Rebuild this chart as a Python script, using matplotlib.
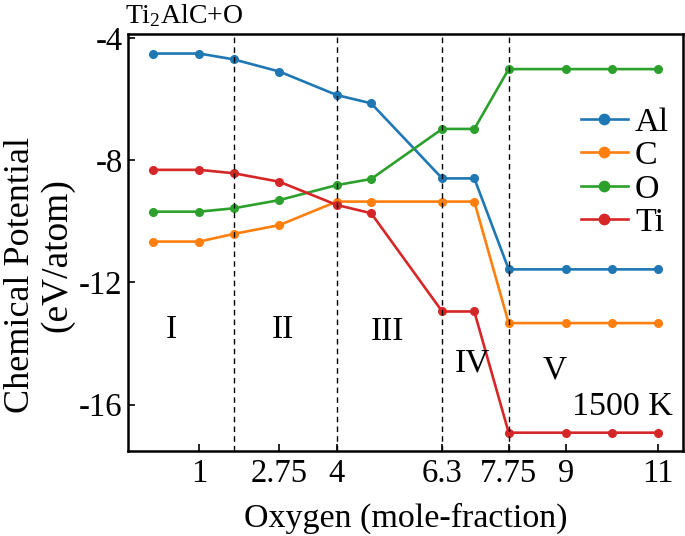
import matplotlib
matplotlib.use("Agg")
import matplotlib.pyplot as plt

plt.rcParams['font.family'] = ['Liberation Serif', 'DejaVu Serif']
plt.rcParams['mathtext.fontset'] = 'custom'
plt.rcParams['mathtext.rm'] = 'Liberation Serif'
plt.rcParams['mathtext.it'] = 'Liberation Serif:italic'

oxygen = [0, 1, 1.75, 2.75, 4, 4.75, 6.3, 7, 7.75, 9, 10, 11]
mu_Al = [-4.5, -4.5, -4.69, -5.09, -5.86, -6.13, -8.59, -8.59, -11.57, -11.57, -11.57, -11.57]
mu_C = [-10.66, -10.66, -10.41, -10.12, -9.35, -9.35, -9.35, -9.35, -13.33, -13.33, -13.33, -13.33]
mu_O = [-9.68, -9.68, -9.57, -9.30, -8.81, -8.61, -6.97, -6.97, -5.01, -5.01, -5.01, -5.01]
mu_Ti = [-8.31, -8.31, -8.42, -8.70, -9.46, -9.73, -12.95, -12.95, -16.92, -16.92, -16.92, -16.92]

boundaries = [1.75, 4, 6.3, 7.75]
xticks = [1, 2.75, 4, 6.3, 7.75, 9, 11]
xticklabels = ['1', '2.75', '4', '6.3', '7.75', '9', '11']
yticks = [-4, -8, -12, -16]
yticklabels = ['-4', '-8', '-12', '-16']

regions = ['I', 'II', 'III', 'IV', 'V']
region_x = [0.40, 2.83, 5.11, 6.96, 8.75]
region_y = [-13.55, -13.55, -13.6, -14.63, -14.86]

fig = plt.figure(figsize=(6.85, 5.36), dpi=100)
ax = fig.add_axes([0.187, 0.158, 0.810, 0.778])

for y, name, c in [(mu_Al, 'Al', 'C0'), (mu_C, 'C', 'C1'), (mu_O, 'O', 'C2'), (mu_Ti, 'Ti', 'C3')]:
    ax.plot(oxygen, y, '-o', color=c, lw=1.9, ms=5.5, label=name)

for b in boundaries:
    ax.axvline(b, color='black', ls='--', lw=1.0, dashes=(4, 3))

ax.set_xlim(-0.55, 11.55)
ax.set_ylim(-17.53, -3.87)
ax.set_xticks(xticks)
ax.set_xticklabels(xticklabels)
ax.set_yticks(yticks)
ax.set_yticklabels(yticklabels)
ax.tick_params(direction='in', labelsize=23.5, length=5, width=1.2)
ax.tick_params(axis='x', pad=5)
ax.tick_params(axis='y', pad=4)
for s in ax.spines.values():
    s.set_linewidth(1.8)

ax.set_xlabel('Oxygen (mole-fraction)', fontsize=24.5, labelpad=10)
fig.text(21 / 685, 1 - 275 / 536, 'Chemical Potential', fontsize=26, rotation=90,
         ha='center', va='center')
fig.text(57 / 685, 1 - 255 / 536, '(eV/atom)', fontsize=27, rotation=90,
         ha='center', va='center')

for r, xx, yy in zip(regions, region_x, region_y):
    ax.text(xx, yy, r, fontsize=24, ha='center', va='center')
ax.text(10.23, -16.07, '1500 K', fontsize=24.5, ha='center', va='center')

fig.text(0.183, 0.970, 'Ti$_2$AlC+O', fontsize=20, ha='left', va='center')

ax.legend(loc='upper right', bbox_to_anchor=(0.975, 0.826), frameon=False,
          fontsize=24.5, handlelength=1.4, handletextpad=0.2, labelspacing=0.08,
          borderpad=0, borderaxespad=0, markerscale=1.35)

fig.savefig('out.png', dpi=100)
